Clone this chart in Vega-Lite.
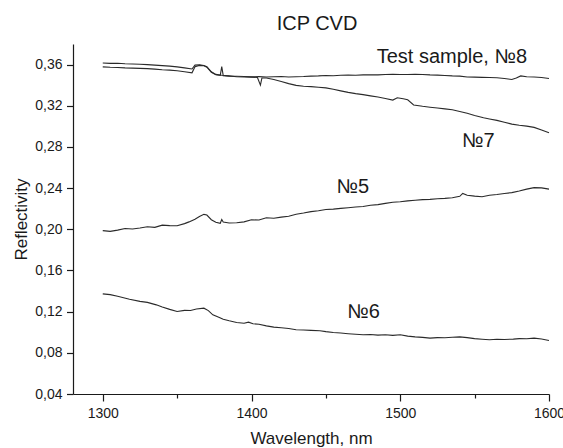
{
  "$schema": "https://vega.github.io/schema/vega-lite/v6.json",
  "width": 476,
  "height": 350,
  "autosize": {"type": "none"},
  "padding": {"left": 73, "top": 44, "right": 14, "bottom": 54},
  "background": "white",
  "config": {
    "view": {"stroke": null},
    "font": "Liberation Sans",
    "axis": {"grid": false, "domainColor": "#1a1a1a", "tickColor": "#1a1a1a", "domainWidth": 1.2, "tickWidth": 1.2, "labelColor": "#1a1a1a", "titleColor": "#1a1a1a", "labelFont": "Liberation Sans", "titleFont": "Liberation Sans", "labelFontSize": 14, "titleFontSize": 17, "titleFontWeight": "normal"}
  },
  "title": {"text": "ICP CVD", "fontSize": 20, "fontWeight": "normal", "color": "#1a1a1a", "font": "Liberation Sans", "offset": 10, "dx": 6},
  "layer": [
    {
      "data": {"values": [
        {"s":"5","x":1300,"y":0.1987},{"s":"5","x":1305,"y":0.1980},{"s":"5","x":1310,"y":0.1992},{"s":"5","x":1315,"y":0.2008},{"s":"5","x":1320,"y":0.2003},{"s":"5","x":1325,"y":0.2012},{"s":"5","x":1330,"y":0.2024},{"s":"5","x":1335,"y":0.2019},{"s":"5","x":1340,"y":0.2040},{"s":"5","x":1345,"y":0.2036},{"s":"5","x":1350,"y":0.2034},{"s":"5","x":1355,"y":0.2055},{"s":"5","x":1358,"y":0.2072},{"s":"5","x":1362,"y":0.2098},{"s":"5","x":1365,"y":0.2125},{"s":"5","x":1368,"y":0.2145},{"s":"5","x":1370,"y":0.2138},{"s":"5","x":1373,"y":0.2093},{"s":"5","x":1376,"y":0.2068},{"s":"5","x":1379,"y":0.2058},{"s":"5","x":1380,"y":0.2095},{"s":"5","x":1381,"y":0.2070},{"s":"5","x":1385,"y":0.2061},{"s":"5","x":1390,"y":0.2064},{"s":"5","x":1395,"y":0.2072},{"s":"5","x":1400,"y":0.2092},{"s":"5","x":1405,"y":0.2090},{"s":"5","x":1410,"y":0.2112},{"s":"5","x":1415,"y":0.2107},{"s":"5","x":1420,"y":0.2118},{"s":"5","x":1425,"y":0.2126},{"s":"5","x":1430,"y":0.2146},{"s":"5","x":1435,"y":0.2158},{"s":"5","x":1440,"y":0.2172},{"s":"5","x":1445,"y":0.2180},{"s":"5","x":1450,"y":0.2192},{"s":"5","x":1455,"y":0.2196},{"s":"5","x":1460,"y":0.2203},{"s":"5","x":1465,"y":0.2210},{"s":"5","x":1470,"y":0.2216},{"s":"5","x":1475,"y":0.2222},{"s":"5","x":1480,"y":0.2234},{"s":"5","x":1485,"y":0.2240},{"s":"5","x":1490,"y":0.2252},{"s":"5","x":1495,"y":0.2262},{"s":"5","x":1500,"y":0.2268},{"s":"5","x":1505,"y":0.2276},{"s":"5","x":1510,"y":0.2282},{"s":"5","x":1515,"y":0.2288},{"s":"5","x":1520,"y":0.2291},{"s":"5","x":1525,"y":0.2297},{"s":"5","x":1530,"y":0.2300},{"s":"5","x":1535,"y":0.2307},{"s":"5","x":1540,"y":0.2320},{"s":"5","x":1542,"y":0.2348},{"s":"5","x":1545,"y":0.2330},{"s":"5","x":1550,"y":0.2322},{"s":"5","x":1555,"y":0.2316},{"s":"5","x":1560,"y":0.2330},{"s":"5","x":1565,"y":0.2338},{"s":"5","x":1570,"y":0.2348},{"s":"5","x":1575,"y":0.2356},{"s":"5","x":1580,"y":0.2372},{"s":"5","x":1585,"y":0.2390},{"s":"5","x":1590,"y":0.2405},{"s":"5","x":1595,"y":0.2402},{"s":"5","x":1600,"y":0.2390},
        {"s":"6","x":1300,"y":0.1373},{"s":"6","x":1305,"y":0.1365},{"s":"6","x":1310,"y":0.1350},{"s":"6","x":1318,"y":0.1321},{"s":"6","x":1325,"y":0.1300},{"s":"6","x":1330,"y":0.1290},{"s":"6","x":1336,"y":0.1266},{"s":"6","x":1340,"y":0.1245},{"s":"6","x":1345,"y":0.1222},{"s":"6","x":1350,"y":0.1201},{"s":"6","x":1355,"y":0.1212},{"s":"6","x":1359,"y":0.1211},{"s":"6","x":1363,"y":0.1225},{"s":"6","x":1368,"y":0.1234},{"s":"6","x":1371,"y":0.1210},{"s":"6","x":1374,"y":0.1169},{"s":"6","x":1378,"y":0.1145},{"s":"6","x":1381,"y":0.1127},{"s":"6","x":1385,"y":0.1112},{"s":"6","x":1390,"y":0.1095},{"s":"6","x":1395,"y":0.1088},{"s":"6","x":1398,"y":0.1098},{"s":"6","x":1401,"y":0.1082},{"s":"6","x":1405,"y":0.1078},{"s":"6","x":1410,"y":0.1062},{"s":"6","x":1415,"y":0.1050},{"s":"6","x":1420,"y":0.1044},{"s":"6","x":1425,"y":0.1036},{"s":"6","x":1430,"y":0.1024},{"s":"6","x":1435,"y":0.1022},{"s":"6","x":1440,"y":0.1018},{"s":"6","x":1446,"y":0.1014},{"s":"6","x":1450,"y":0.1006},{"s":"6","x":1455,"y":0.0998},{"s":"6","x":1460,"y":0.0992},{"s":"6","x":1465,"y":0.0986},{"s":"6","x":1470,"y":0.0980},{"s":"6","x":1475,"y":0.0975},{"s":"6","x":1480,"y":0.0978},{"s":"6","x":1485,"y":0.0972},{"s":"6","x":1490,"y":0.0976},{"s":"6","x":1495,"y":0.0970},{"s":"6","x":1500,"y":0.0975},{"s":"6","x":1505,"y":0.0962},{"s":"6","x":1510,"y":0.0955},{"s":"6","x":1515,"y":0.0950},{"s":"6","x":1520,"y":0.0943},{"s":"6","x":1525,"y":0.0948},{"s":"6","x":1530,"y":0.0946},{"s":"6","x":1535,"y":0.0952},{"s":"6","x":1540,"y":0.0955},{"s":"6","x":1545,"y":0.0948},{"s":"6","x":1550,"y":0.0938},{"s":"6","x":1555,"y":0.0932},{"s":"6","x":1560,"y":0.0927},{"s":"6","x":1565,"y":0.0932},{"s":"6","x":1570,"y":0.0930},{"s":"6","x":1576,"y":0.0933},{"s":"6","x":1580,"y":0.0938},{"s":"6","x":1585,"y":0.0936},{"s":"6","x":1590,"y":0.0943},{"s":"6","x":1595,"y":0.0935},{"s":"6","x":1600,"y":0.0920},
        {"s":"7","x":1300,"y":0.3616},{"s":"7","x":1305,"y":0.3612},{"s":"7","x":1310,"y":0.3613},{"s":"7","x":1315,"y":0.3608},{"s":"7","x":1320,"y":0.3606},{"s":"7","x":1325,"y":0.3603},{"s":"7","x":1330,"y":0.3600},{"s":"7","x":1335,"y":0.3595},{"s":"7","x":1340,"y":0.3590},{"s":"7","x":1345,"y":0.3585},{"s":"7","x":1350,"y":0.3578},{"s":"7","x":1355,"y":0.3568},{"s":"7","x":1360,"y":0.3557},{"s":"7","x":1362,"y":0.3595},{"s":"7","x":1365,"y":0.3598},{"s":"7","x":1368,"y":0.3592},{"s":"7","x":1370,"y":0.3580},{"s":"7","x":1373,"y":0.3530},{"s":"7","x":1376,"y":0.3505},{"s":"7","x":1380,"y":0.3497},{"s":"7","x":1385,"y":0.3490},{"s":"7","x":1390,"y":0.3482},{"s":"7","x":1395,"y":0.3480},{"s":"7","x":1400,"y":0.3478},{"s":"7","x":1404,"y":0.3475},{"s":"7","x":1406,"y":0.3400},{"s":"7","x":1407,"y":0.3470},{"s":"7","x":1410,"y":0.3470},{"s":"7","x":1415,"y":0.3455},{"s":"7","x":1420,"y":0.3435},{"s":"7","x":1425,"y":0.3415},{"s":"7","x":1430,"y":0.3398},{"s":"7","x":1435,"y":0.3390},{"s":"7","x":1440,"y":0.3386},{"s":"7","x":1445,"y":0.3380},{"s":"7","x":1450,"y":0.3374},{"s":"7","x":1455,"y":0.3360},{"s":"7","x":1460,"y":0.3345},{"s":"7","x":1465,"y":0.3330},{"s":"7","x":1470,"y":0.3318},{"s":"7","x":1475,"y":0.3308},{"s":"7","x":1480,"y":0.3296},{"s":"7","x":1485,"y":0.3285},{"s":"7","x":1490,"y":0.3270},{"s":"7","x":1495,"y":0.3255},{"s":"7","x":1498,"y":0.3278},{"s":"7","x":1502,"y":0.3268},{"s":"7","x":1505,"y":0.3258},{"s":"7","x":1509,"y":0.3208},{"s":"7","x":1515,"y":0.3195},{"s":"7","x":1520,"y":0.3186},{"s":"7","x":1525,"y":0.3178},{"s":"7","x":1530,"y":0.3170},{"s":"7","x":1535,"y":0.3162},{"s":"7","x":1540,"y":0.3145},{"s":"7","x":1545,"y":0.3128},{"s":"7","x":1550,"y":0.3106},{"s":"7","x":1556,"y":0.3083},{"s":"7","x":1560,"y":0.3072},{"s":"7","x":1565,"y":0.3058},{"s":"7","x":1570,"y":0.3040},{"s":"7","x":1575,"y":0.3022},{"s":"7","x":1580,"y":0.3010},{"s":"7","x":1585,"y":0.3002},{"s":"7","x":1590,"y":0.2990},{"s":"7","x":1595,"y":0.2965},{"s":"7","x":1600,"y":0.2937},
        {"s":"8","x":1300,"y":0.3578},{"s":"8","x":1305,"y":0.3574},{"s":"8","x":1310,"y":0.3572},{"s":"8","x":1315,"y":0.3568},{"s":"8","x":1320,"y":0.3566},{"s":"8","x":1325,"y":0.3563},{"s":"8","x":1330,"y":0.3561},{"s":"8","x":1335,"y":0.3556},{"s":"8","x":1340,"y":0.3550},{"s":"8","x":1345,"y":0.3546},{"s":"8","x":1350,"y":0.3540},{"s":"8","x":1355,"y":0.3530},{"s":"8","x":1360,"y":0.3520},{"s":"8","x":1362,"y":0.3580},{"s":"8","x":1365,"y":0.3592},{"s":"8","x":1368,"y":0.3588},{"s":"8","x":1370,"y":0.3575},{"s":"8","x":1373,"y":0.3525},{"s":"8","x":1376,"y":0.3502},{"s":"8","x":1379,"y":0.3496},{"s":"8","x":1380,"y":0.3580},{"s":"8","x":1381,"y":0.3492},{"s":"8","x":1385,"y":0.3488},{"s":"8","x":1390,"y":0.3486},{"s":"8","x":1395,"y":0.3484},{"s":"8","x":1400,"y":0.3481},{"s":"8","x":1405,"y":0.3483},{"s":"8","x":1410,"y":0.3480},{"s":"8","x":1415,"y":0.3482},{"s":"8","x":1420,"y":0.3485},{"s":"8","x":1425,"y":0.3480},{"s":"8","x":1430,"y":0.3482},{"s":"8","x":1435,"y":0.3484},{"s":"8","x":1440,"y":0.3488},{"s":"8","x":1445,"y":0.3490},{"s":"8","x":1450,"y":0.3494},{"s":"8","x":1455,"y":0.3492},{"s":"8","x":1460,"y":0.3496},{"s":"8","x":1465,"y":0.3498},{"s":"8","x":1470,"y":0.3497},{"s":"8","x":1475,"y":0.3500},{"s":"8","x":1480,"y":0.3502},{"s":"8","x":1485,"y":0.3500},{"s":"8","x":1490,"y":0.3503},{"s":"8","x":1495,"y":0.3505},{"s":"8","x":1500,"y":0.3503},{"s":"8","x":1505,"y":0.3504},{"s":"8","x":1510,"y":0.3506},{"s":"8","x":1515,"y":0.3504},{"s":"8","x":1520,"y":0.3500},{"s":"8","x":1525,"y":0.3498},{"s":"8","x":1530,"y":0.3494},{"s":"8","x":1535,"y":0.3490},{"s":"8","x":1540,"y":0.3488},{"s":"8","x":1545,"y":0.3480},{"s":"8","x":1550,"y":0.3478},{"s":"8","x":1555,"y":0.3476},{"s":"8","x":1560,"y":0.3475},{"s":"8","x":1565,"y":0.3472},{"s":"8","x":1570,"y":0.3465},{"s":"8","x":1575,"y":0.3455},{"s":"8","x":1578,"y":0.3470},{"s":"8","x":1581,"y":0.3490},{"s":"8","x":1585,"y":0.3482},{"s":"8","x":1590,"y":0.3480},{"s":"8","x":1595,"y":0.3475},{"s":"8","x":1600,"y":0.3465}
      ]},
      "mark": {"type": "line", "color": "#2a2a2a", "strokeWidth": 1.1, "interpolate": "linear"},
      "encoding": {
        "x": {"field": "x", "type": "quantitative", "scale": {"domain": [1280, 1600], "nice": false, "zero": false},
          "axis": {"title": "Wavelength, nm", "format": "d", "values": [1300, 1350, 1400, 1450, 1500, 1550, 1600], "labelExpr": "datum.value % 100 === 0 ? datum.label : ''", "tickSize": {"condition": {"test": "datum.value % 100 === 0", "value": 7}, "value": 4}, "labelPadding": 5, "titlePadding": 10, "labelFlush": false, "labelOverlap": false}},
        "y": {"field": "y", "type": "quantitative", "scale": {"domain": [0.04, 0.38], "nice": false, "zero": false},
          "axis": {"title": "Reflectivity", "values": [0.04, 0.06, 0.08, 0.1, 0.12, 0.14, 0.16, 0.18, 0.2, 0.22, 0.24, 0.26, 0.28, 0.3, 0.32, 0.34, 0.36, 0.38], "labelExpr": "round(datum.value * 100) % 4 === 0 ? replace(format(datum.value, '.2f'), '.', ',') : ''", "tickSize": {"condition": {"test": "round(datum.value * 100) % 4 === 0", "value": 6.5}, "value": 4}, "labelPadding": 4.5, "titlePadding": 4, "labelFlush": false, "labelOverlap": false}},
        "detail": {"field": "s", "type": "nominal"}
      }
    },
    {
      "data": {"values": [
        {"label": "Test sample, №8", "x": 1534.7, "y": 0.3616},
        {"label": "№7", "x": 1552.5, "y": 0.2802},
        {"label": "№5", "x": 1468.1, "y": 0.2355},
        {"label": "№6", "x": 1475.3, "y": 0.1137}
      ]},
      "mark": {"type": "text", "fontSize": 20, "font": "Liberation Sans", "color": "#1a1a1a", "align": "center", "baseline": "alphabetic"},
      "encoding": {
        "x": {"field": "x", "type": "quantitative"},
        "y": {"field": "y", "type": "quantitative"},
        "text": {"field": "label", "type": "nominal"}
      }
    }
  ]
}
